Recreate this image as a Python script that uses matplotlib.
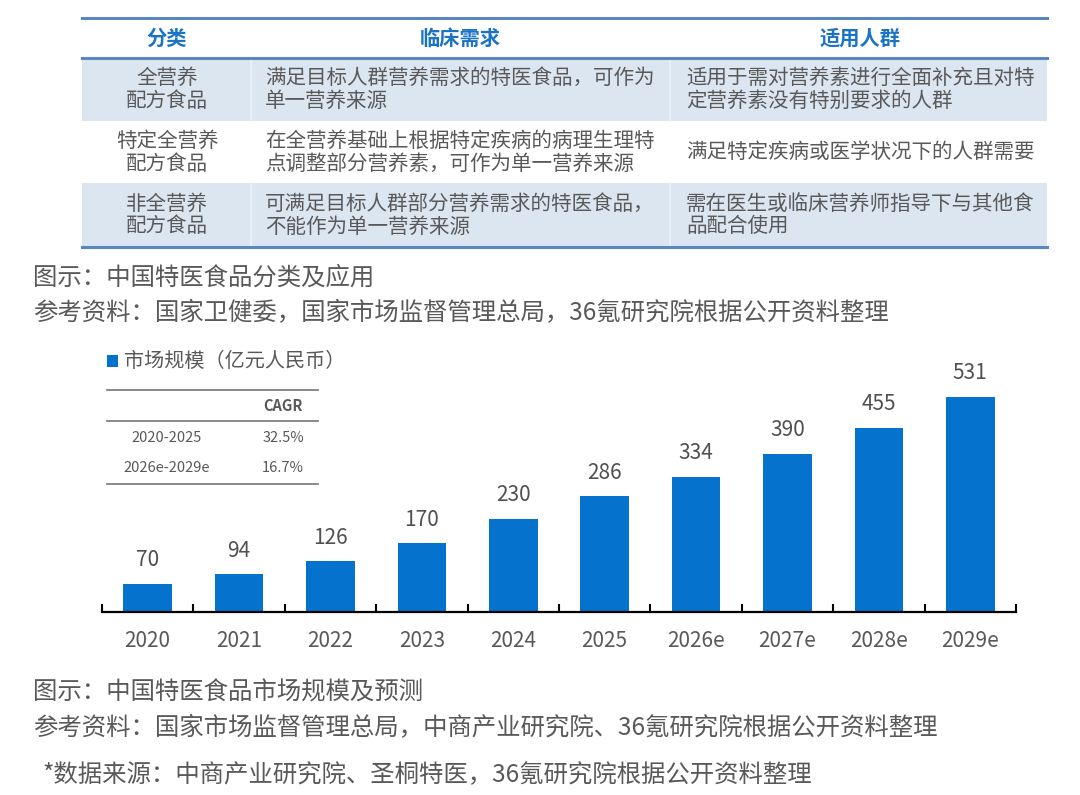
import matplotlib
matplotlib.use('Agg')
import matplotlib.pyplot as plt
from matplotlib.patches import Rectangle

plt.rcParams['font.family'] = ['Noto Sans CJK SC', 'DejaVu Sans']

W, H = 1080, 795
BLUE = '#0573cd'
HEAD_BLUE = '#1a73c6'
GREY = '#595959'
LINE_BLUE = '#5a86c2'
SHADE = '#dce6f1'

# table data
headers = ['分类', '临床需求', '适用人群']
col_category = [['全营养', '配方食品'], ['特定全营养', '配方食品'], ['非全营养', '配方食品']]
col_need = [['满足目标人群营养需求的特医食品，可作为', '单一营养来源'],
            ['在全营养基础上根据特定疾病的病理生理特', '点调整部分营养素，可作为单一营养来源'],
            ['可满足目标人群部分营养需求的特医食品，', '不能作为单一营养来源']]
col_people = [['适用于需对营养素进行全面补充且对特', '定营养素没有特别要求的人群'],
              ['满足特定疾病或医学状况下的人群需要'],
              ['需在医生或临床营养师指导下与其他食', '品配合使用']]

# bar chart data
years = ['2020', '2021', '2022', '2023', '2024', '2025', '2026e', '2027e', '2028e', '2029e']
market = [70, 94, 126, 170, 230, 286, 334, 390, 455, 531]
cagr_periods = ['2020-2025', '2026e-2029e']
cagr_values = ['32.5%', '16.7%']

caption_top = ['图示：中国特医食品分类及应用',
               '参考资料：国家卫健委，国家市场监督管理总局，36氪研究院根据公开资料整理']
caption_bottom = ['图示：中国特医食品市场规模及预测',
                  '参考资料：国家市场监督管理总局，中商产业研究院、36氪研究院根据公开资料整理']
footnote = '*数据来源：中商产业研究院、圣桐特医，36氪研究院根据公开资料整理'

fig = plt.figure(figsize=(W / 100, H / 100), dpi=100)
fig.patch.set_facecolor('white')

# background axes in pixel coordinates
bg = fig.add_axes([0, 0, 1, 1])
bg.set_xlim(0, W)
bg.set_ylim(H, 0)
bg.axis('off')

# ---- table ----
tx0, tx1 = 82, 1047
col_edges = [82, 251, 670, 1047]
row_edges = [58, 121, 183, 247]
for r in range(3):
    if r % 2 == 0:
        bg.add_patch(Rectangle((tx0, row_edges[r]), tx1 - tx0, row_edges[r + 1] - row_edges[r],
                               facecolor=SHADE, edgecolor='none', zorder=1))
        for cx in col_edges[1:3]:
            bg.plot([cx, cx], [row_edges[r], row_edges[r + 1]], color='#eef3fa', lw=1.2, zorder=2)
for y in [18, 58, 247]:
    bg.plot([tx0, tx1], [y, y], color=LINE_BLUE, lw=2.2, zorder=3)

head_x = [167, 460, 860]
for hx, h in zip(head_x, headers):
    bg.text(hx, 38, h, ha='center', va='center', fontsize=14.6, fontweight='bold', color=HEAD_BLUE)

LS = 23
for r in range(3):
    cy = (row_edges[r] + row_edges[r + 1]) / 2
    for col, x, ha in [(col_category, 167, 'center'), (col_need, 265, 'left'), (col_people, 686, 'left')]:
        lines = col[r]
        n = len(lines)
        for i, line in enumerate(lines):
            y = cy + (i - (n - 1) / 2) * LS
            bg.text(x, y, line, ha=ha, va='center', fontsize=14.8, color=GREY, zorder=4)

# captions
for i, t in enumerate(caption_top):
    bg.text(33, 278 + i * 35, t, ha='left', va='center', fontsize=17.6, color=GREY)
for i, t in enumerate(caption_bottom):
    bg.text(33, 692 + i * 36, t, ha='left', va='center', fontsize=17.6, color=GREY)
bg.text(42, 775, footnote, ha='left', va='center', fontsize=17.6, color=GREY)

# legend
bg.add_patch(Rectangle((107, 355), 11, 12, facecolor=BLUE, edgecolor='none'))
bg.text(124, 361, '市场规模（亿元人民币）', ha='left', va='center', fontsize=14.5, color=GREY)

# CAGR inset table
for y in [390, 421, 484]:
    bg.plot([107, 318], [y, y], color='#808080', lw=1.3)
bg.text(283, 406, 'CAGR', ha='center', va='center', fontsize=10.5, fontweight='bold', color=GREY)
for i, (p, v) in enumerate(zip(cagr_periods, cagr_values)):
    bg.text(167, 438 + i * 30, p, ha='center', va='center', fontsize=10.5, color=GREY)
    bg.text(283, 438 + i * 30, v, ha='center', va='center', fontsize=10.5, color=GREY)

# ---- bar chart ----
base_y, top_y = 612.3, 340
px_per_unit = 0.406
left, right = 102, 1016
ax = fig.add_axes([left / W, (H - base_y) / H, (right - left) / W, (base_y - top_y) / H])
ax.patch.set_alpha(0)
xs = range(len(years))
ax.bar(xs, market, width=0.53, color=BLUE)
for x, v in zip(xs, market):
    ax.annotate(str(v), (x, v), xytext=(0, 9), textcoords='offset points',
                ha='center', va='bottom', fontsize=15, color='#505050')
ax.set_xlim(-0.5, len(years) - 0.5)
ax.set_ylim(0, (base_y - top_y) / px_per_unit)
for s in ['left', 'top', 'right']:
    ax.spines[s].set_visible(False)
ax.spines['bottom'].set_linewidth(1.6)
ax.spines['bottom'].set_color('black')
ax.set_yticks([])
ax.set_xticks(list(xs))
ax.set_xticklabels(years, fontsize=15, color=GREY)
ax.tick_params(axis='x', which='major', length=0, pad=13)
ax.set_xticks([i - 0.5 for i in range(len(years) + 1)], minor=True)
ax.tick_params(axis='x', which='minor', direction='in', length=6, width=1.5, color='black')

fig.savefig('out.png', dpi=100, facecolor='white')
